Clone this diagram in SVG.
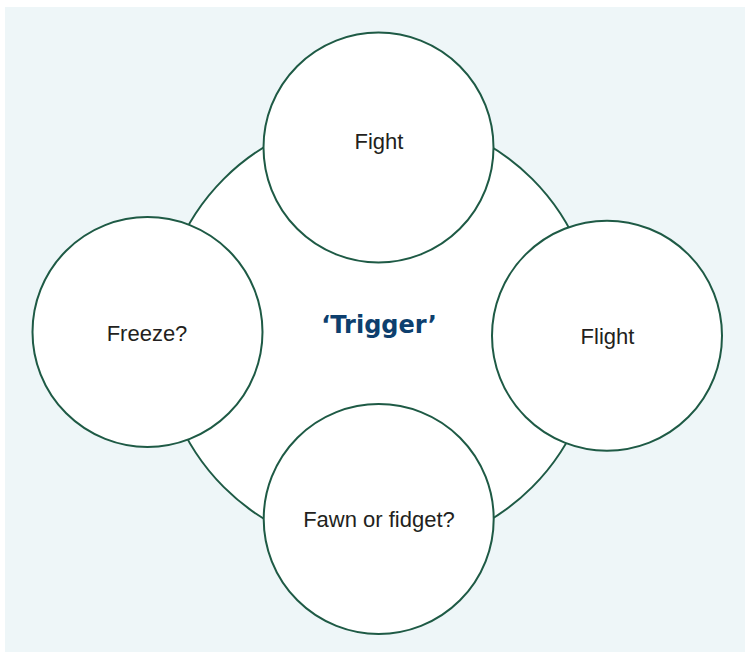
<svg xmlns="http://www.w3.org/2000/svg" width="745" height="652" viewBox="0 0 745 652">
  <style>
    .ring { fill: #ffffff; stroke: #1e5a45; stroke-width: 2; }
    .label { font-family: "Liberation Sans", Arial, sans-serif; font-size: 22px; fill: #231f20; text-anchor: middle; }
    .hub { font-family: "DejaVu Sans", sans-serif; font-size: 24px; font-weight: bold; fill: #0d3f6e; text-anchor: middle; }
  </style>
  <!-- panel -->
  <rect x="5" y="7" width="740" height="645" fill="#eef6f8"/>

  <g id="trigger">
    <circle class="ring" cx="378" cy="333" r="218"/>
    <text class="hub" x="379" y="333">‘Trigger’</text>
  </g>

  <g id="fight">
    <circle class="ring" cx="378.5" cy="147.5" r="115"/>
    <text class="label" x="379" y="149">Fight</text>
  </g>

  <g id="freeze">
    <circle class="ring" cx="147.5" cy="332" r="115"/>
    <text class="label" x="147" y="341">Freeze?</text>
  </g>

  <g id="flight">
    <circle class="ring" cx="607" cy="335.7" r="115"/>
    <text class="label" x="607.5" y="344">Flight</text>
  </g>

  <g id="fawn">
    <circle class="ring" cx="378.7" cy="519" r="115"/>
    <text class="label" x="379" y="527">Fawn or fidget?</text>
  </g>
</svg>
